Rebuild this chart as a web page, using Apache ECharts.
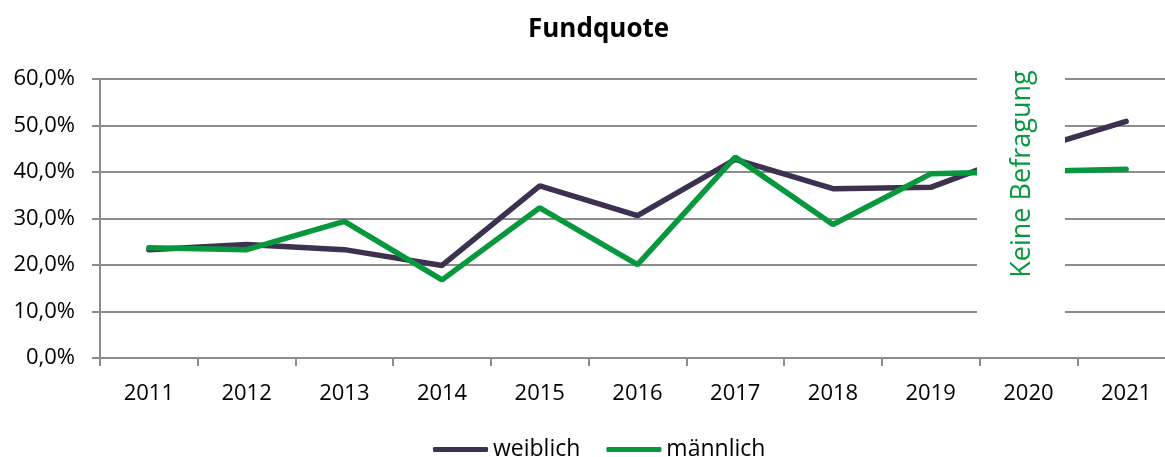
<!DOCTYPE html>
<html>
<head>
<meta charset="utf-8">
<script src="https://cdn.jsdelivr.net/npm/echarts@6/dist/echarts.min.js"></script>
<style>
  html, body { margin: 0; padding: 0; background: #fff; overflow: hidden; }
  /* plot runs slightly past the right edge of the picture, like the original */
  #chart { width: 1175px; height: 457px; }
</style>
</head>
<body>
<div id="chart"></div>
<script>
// data (share in %)
const years = ['2011', '2012', '2013', '2014', '2015', '2016', '2017', '2018', '2019', '2020', '2021'];
const weiblich = [23.3, 24.4, 23.3, 19.9, 37.0, 30.6, 42.7, 36.4, 36.7, 44.5, 50.9];
const maennlich = [23.7, 23.3, 29.4, 16.8, 32.3, 20.1, 43.2, 28.7, 39.6, 40.1, 40.6];
const yTicks = [0, 10, 20, 30, 40, 50, 60];

const FONT = '"Open Sans", sans-serif';
const PURPLE = '#3d3152';
const GREEN = '#07983d';
const GRID = '#8c8c8c';

const chart = echarts.init(document.getElementById('chart'));

const option = {
  animation: false,
  textStyle: { fontFamily: FONT },
  title: {
    text: 'Fundquote',
    left: 523,
    top: 12,
    textStyle: { fontFamily: FONT, fontSize: 26, fontWeight: 'bold', color: '#000' }
  },
  legend: {
    top: 438,
    left: 433,
    padding: 0,
    icon: 'roundRect',
    itemWidth: 55,
    itemHeight: 5,
    itemGap: 26,
    textStyle: { fontFamily: FONT, fontSize: 23, color: '#000' },
    data: ['weiblich', 'männlich']
  },
  grid: { left: 100, right: 0, top: 79, bottom: 99, containLabel: false },
  xAxis: {
    type: 'category',
    data: years,
    boundaryGap: true,
    axisLine: { lineStyle: { color: GRID, width: 2 } },
    axisTick: { show: true, length: 8, lineStyle: { color: GRID, width: 2 } },
    axisLabel: { fontFamily: FONT, fontSize: 22, color: '#000', margin: 25 }
  },
  yAxis: {
    type: 'value',
    min: yTicks[0],
    max: yTicks[yTicks.length - 1],
    interval: 10,
    axisLine: { show: true, lineStyle: { color: GRID, width: 2 } },
    axisTick: { show: true, length: 8, lineStyle: { color: GRID, width: 2 } },
    splitLine: { lineStyle: { color: GRID, width: 2 } },
    axisLabel: {
      fontFamily: FONT, fontSize: 22, color: '#000', margin: 25,
      formatter: v => v.toFixed(1).replace('.', ',') + '%'
    }
  },
  series: [
    {
      name: 'weiblich',
      type: 'line',
      data: weiblich,
      showSymbol: false,
      symbol: 'none',
      color: PURPLE,
      lineStyle: { color: PURPLE, width: 5.5, cap: 'round' },
      z: 3
    },
    {
      name: 'männlich',
      type: 'line',
      data: maennlich,
      showSymbol: false,
      symbol: 'none',
      color: GREEN,
      lineStyle: { color: GREEN, width: 5.5, cap: 'round' },
      z: 4
    }
  ],
  graphic: [
    {
      // white box hiding 2020 (no survey)
      type: 'rect',
      z: 100,
      shape: { x: 977, y: 62, width: 88, height: 290 },
      style: { fill: '#fff' }
    },
    {
      type: 'text',
      z: 101,
      x: 1022,
      y: 174,
      rotation: Math.PI / 2,
      style: {
        text: 'Keine Befragung',
        fontFamily: FONT,
        fontSize: 27,
        fill: GREEN,
        align: 'center',
        verticalAlign: 'middle'
      }
    }
  ]
};

chart.setOption(option);
</script>
</body>
</html>
